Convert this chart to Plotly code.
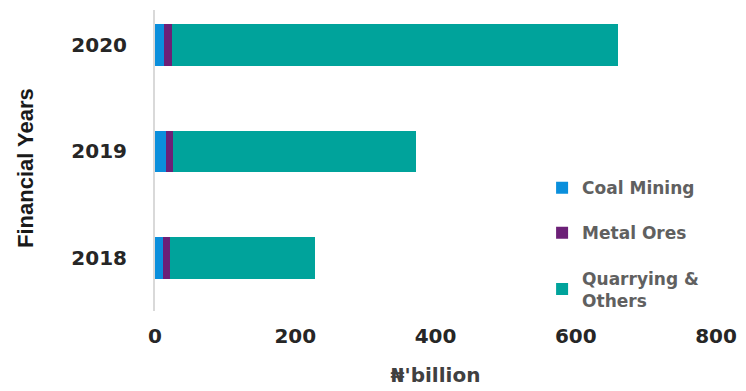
import plotly.graph_objects as go

# Mining sector output by financial year, in naira billions
years = ["2018", "2019", "2020"]
coal_mining = [12, 15, 13]
metal_ores = [9, 11, 11]
quarrying_others = [207, 346, 636]

series = [
    ("Coal Mining", coal_mining, "#0A8FDC"),
    ("Metal Ores", metal_ores, "#6C2077"),
    ("Quarrying &<br>Others", quarrying_others, "#00A39B"),
]

fig = go.Figure()
for i, (name, values, color) in enumerate(series):
    fig.add_trace(go.Bar(
        y=years, x=values, name=name, orientation="h",
        marker=dict(color=color, line=dict(width=0)),
        width=0.39, legendgroup=f"g{i}",
    ))

tick_font = dict(family="DejaVu Sans", size=20, color="#262626", weight="bold")

fig.update_layout(
    barmode="stack",
    width=746, height=391,
    margin=dict(l=155, r=30, t=10, b=80),
    paper_bgcolor="white", plot_bgcolor="white",
    showlegend=True,
    legend=dict(
        x=0.69, y=0.468, xanchor="left", yanchor="top",
        traceorder="grouped", tracegroupgap=20,
        font=dict(family="DejaVu Sans", size=17, color="#606060", weight="bold"),
        bgcolor="rgba(0,0,0,0)",
    ),
    xaxis=dict(
        range=[0, 800], tickvals=[0, 200, 400, 600, 800],
        showgrid=False, zeroline=False, showline=False, automargin=False,
        tickfont=tick_font, ticklabelstandoff=11,
        title=dict(text="₦'billion", standoff=20,
                   font=dict(family="DejaVu Sans", size=20, color="#404040", weight="bold")),
    ),
    yaxis=dict(
        type="category", range=[-0.5, 2.33], automargin=False,
        showgrid=False, zeroline=False,
        showline=True, linecolor="#D9D9D9", linewidth=2,
        tickfont=tick_font, ticklabelstandoff=22,
    ),
    annotations=[dict(
        text="Financial Years", textangle=-90,
        xref="paper", yref="paper",
        x=(25 - 155) / 561, y=(311 - 168) / 301,
        xanchor="center", yanchor="middle", showarrow=False,
        font=dict(family="Liberation Sans Narrow, Liberation Sans", size=22,
                  color="#1a1a1a", weight="bold"),
    )],
)

fig.write_html("out.html")
